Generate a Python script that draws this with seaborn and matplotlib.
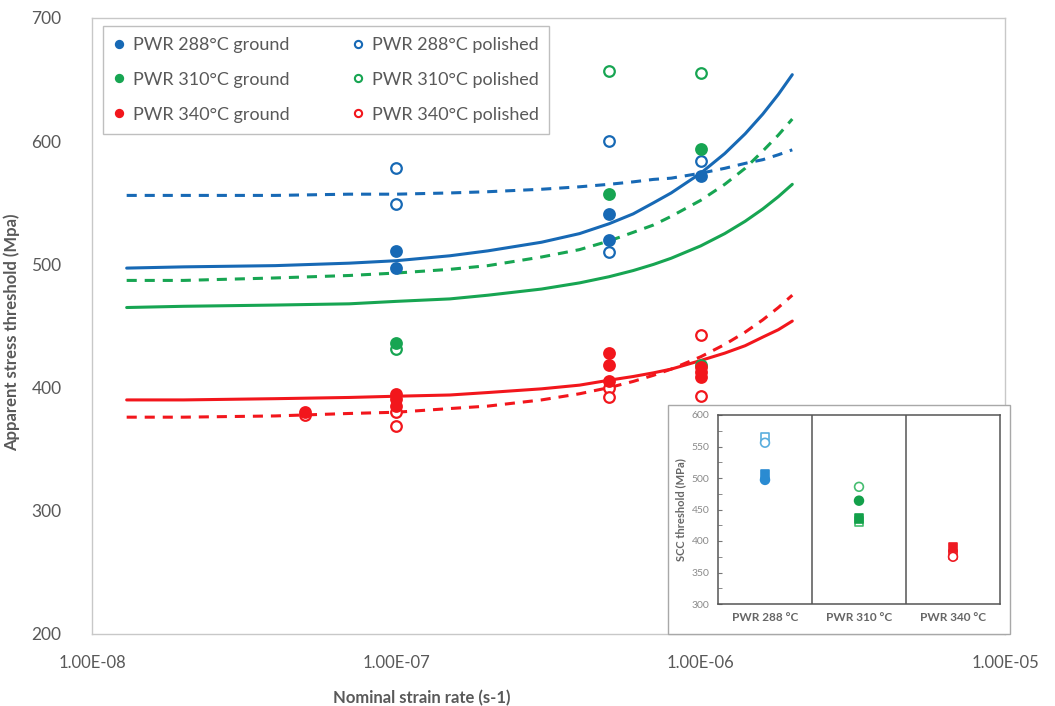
import numpy as np
import pandas as pd
import matplotlib
matplotlib.use("Agg")
import matplotlib.pyplot as plt
from matplotlib.lines import Line2D
from matplotlib.patches import Rectangle
import seaborn as sns

# ---------------- data ----------------
xtick_vals = [1e-8, 1e-7, 1e-6, 1e-5]
xtick_labels = ["1.00E-08", "1.00E-07", "1.00E-06", "1.00E-05"]
ytick_vals = [200, 300, 400, 500, 600, 700]

# fitted curves
fit_x = [1.3e-8, 2e-8, 4e-8, 7e-8, 1e-7, 1.5e-7, 2e-7, 3e-7, 4e-7, 5e-7,
         6e-7, 7e-7, 8e-7, 1e-6, 1.2e-6, 1.4e-6, 1.6e-6, 1.8e-6, 2e-6]
fit_288_ground = [497, 498, 499, 501, 503, 507, 511, 518, 525, 533, 541, 550, 558, 574, 590, 606, 622, 638, 654]
fit_288_polished = [556, 556, 556, 557, 557, 558, 559, 561, 563, 565, 567, 569, 570, 574, 578, 582, 585, 589, 593]
fit_310_ground = [465, 466, 467, 468, 470, 472, 475, 480, 485, 490, 495, 500, 505, 515, 525, 535, 545, 555, 565]
fit_310_polished = [487, 487, 489, 491, 493, 496, 499, 506, 512, 519, 526, 532, 539, 552, 565, 578, 592, 605, 618]
fit_340_ground = [390, 390, 391, 392, 393, 394, 396, 399, 402, 406, 409, 412, 415, 422, 428, 434, 441, 447, 454]
fit_340_polished = [376, 376, 377, 379, 380, 383, 385, 390, 395, 400, 405, 410, 415, 425, 435, 445, 455, 465, 475]

# measured points
g288_x = [1e-7, 1e-7, 5e-7, 5e-7, 1e-6]
g288_y = [511, 497, 541, 520, 572]
p288_x = [1e-7, 1e-7, 5e-7, 5e-7, 1e-6]
p288_y = [578, 549, 600, 510, 584]
g310_x = [1e-7, 5e-7, 1e-6, 1e-6]
g310_y = [436, 557, 594, 418]
p310_x = [1e-7, 5e-7, 1e-6]
p310_y = [431, 657, 655]
g340_x = [5e-8, 1e-7, 1e-7, 1e-7, 5e-7, 5e-7, 5e-7, 1e-6, 1e-6, 1e-6]
g340_y = [380, 395, 391, 385, 428, 418, 405, 417, 413, 409]
p340_x = [5e-8, 1e-7, 1e-7, 5e-7, 5e-7, 1e-6, 1e-6]
p340_y = [378, 380, 369, 400, 392, 443, 393]

legend_labels = ["PWR 288°C ground", "PWR 310°C ground", "PWR 340°C ground",
                 "PWR 288°C polished", "PWR 310°C polished", "PWR 340°C polished"]

# inset data
inset_cats = ["PWR 288 °C", "PWR 310 °C", "PWR 340 °C"]
inset_fcircle_cat = ["PWR 288 °C", "PWR 310 °C"]
inset_fcircle_val = [497, 464]
inset_fsquare_cat = ["PWR 288 °C", "PWR 310 °C", "PWR 340 °C"]
inset_fsquare_val = [505, 436, 390]
inset_ocircle_cat = ["PWR 288 °C", "PWR 310 °C", "PWR 340 °C"]
inset_ocircle_val = [556, 486, 375]
inset_osquare_cat = ["PWR 288 °C", "PWR 310 °C", "PWR 340 °C"]
inset_osquare_val = [564, 431, 379]

# ---------------- style ----------------
sns.set_style("white")
plt.rcParams["font.family"] = ["Lato", "DejaVu Sans"]

BLUE = "#1769b5"
GREEN = "#17a552"
RED = "#f2161c"
TXT = "#595959"

fig = plt.figure(figsize=(10.55, 7.06), dpi=100)
ax = fig.add_axes([92 / 1055, 1 - 634 / 706, (1005 - 92) / 1055, (634 - 18) / 706])
ax.set_xscale("log")

dash = (3.3, 2.6)
curves = [
    (fit_288_ground, BLUE, "-"), (fit_288_polished, BLUE, "--"),
    (fit_310_ground, GREEN, "-"), (fit_310_polished, GREEN, "--"),
    (fit_340_ground, RED, "-"), (fit_340_polished, RED, "--"),
]
for vals, c, ls in curves:
    df = pd.DataFrame({"x": fit_x, "y": vals})
    sns.lineplot(data=df, x="x", y="y", ax=ax, color=c, lw=2.2, sort=False,
                 estimator=None, zorder=2)
    if ls == "--":
        ax.lines[-1].set_dashes(dash)


def scat(axis, x, y, c, filled, s=58, marker="o", lw=1.6, z=4):
    sns.scatterplot(x=x, y=y, ax=axis, color=c, s=s, marker=marker,
                    linewidth=lw, zorder=z, legend=False)
    coll = axis.collections[-1]
    coll.set_edgecolor(c)
    coll.set_facecolor(c if filled else "white")
    coll.set_linewidth(lw)


scat(ax, p288_x, p288_y, BLUE, False)
scat(ax, p310_x, p310_y, GREEN, False)
scat(ax, p340_x, p340_y, RED, False)
scat(ax, g288_x, g288_y, BLUE, True)
scat(ax, g310_x, g310_y, GREEN, True)
scat(ax, g340_x, g340_y, RED, True)

ax.set_xlim(1e-8, 1e-5)
ax.set_ylim(200, 700)
ax.set_xticks(xtick_vals)
ax.set_xticklabels(xtick_labels)
ax.set_yticks(ytick_vals)
ax.minorticks_off()
ax.tick_params(axis="x", length=0, pad=15, labelsize=12, labelcolor=TXT)
ax.tick_params(axis="y", length=0, pad=22, labelsize=12.5, labelcolor=TXT)
for sp in ax.spines.values():
    sp.set_color("#c8c8c8")
    sp.set_linewidth(1.0)
ax.set_xlabel("Nominal strain rate (s-1)", fontsize=12, fontweight="bold", color=TXT)
ax.xaxis.set_label_coords((422 - 92) / 913, -(690 - 634) / 616)
ax.set_ylabel("Apparent stress threshold (Mpa)", fontsize=12, fontweight="bold", color=TXT)
ax.yaxis.set_label_coords(-(92 - 20) / 913, 0.49)

# legend
handles = []
for c, filled in [(BLUE, True), (GREEN, True), (RED, True), (BLUE, False), (GREEN, False), (RED, False)]:
    handles.append(Line2D([], [], marker="o", linestyle="none", markersize=5.2,
                          markerfacecolor=c if filled else "white",
                          markeredgecolor=c, markeredgewidth=1.5))
leg = ax.legend(handles, legend_labels, ncol=2, loc="upper left",
                bbox_to_anchor=((103 - 92) / 913, (634 - 26) / 616),
                borderaxespad=0, frameon=True, fancybox=False, fontsize=13,
                labelspacing=1.05, columnspacing=3.5, handlelength=0.6,
                handletextpad=0.45, borderpad=0.6, labelcolor=TXT)
leg.get_frame().set_edgecolor("#b0b0b0")
leg.get_frame().set_linewidth(1.0)

# ---------------- inset ----------------
frame = Rectangle((668 / 1055, 1 - 634 / 706), (1010 - 668) / 1055, (634 - 405) / 706,
                  transform=fig.transFigure, facecolor="white", edgecolor="#a8a8a8",
                  linewidth=1.0, zorder=1)
fig.add_artist(frame)

ax2 = fig.add_axes([718 / 1055, 1 - 604 / 706, (1000 - 718) / 1055, (604 - 415) / 706])
ax2.set_zorder(2)
ax2.set_facecolor("white")

IB, IBL = "#2a8bd2", "#5aaede"
IG, IGL = "#13a04a", "#45bd70"
IR = "#ee1a22"
inset_pal_f = {"PWR 288 °C": IB, "PWR 310 °C": IG, "PWR 340 °C": IR}
inset_pal_o = {"PWR 288 °C": IBL, "PWR 310 °C": IGL, "PWR 340 °C": IR}


def inset_scat(cats, vals, pal, filled, marker):
    df = pd.DataFrame({"cat": cats, "val": vals})
    sns.scatterplot(data=df, x="cat", y="val", hue="cat", palette=pal, ax=ax2,
                    marker=marker, s=40, linewidth=1.2, legend=False, zorder=3)
    coll = ax2.collections[-1]
    cols = [pal[c] for c in cats]
    coll.set_edgecolors(cols)
    coll.set_facecolors(cols if filled else ["white"] * len(cols))
    coll.set_linewidth(1.2)


# establish category order
sns.scatterplot(x=inset_cats, y=[np.nan] * 3, ax=ax2, legend=False)
inset_scat(inset_osquare_cat, inset_osquare_val, inset_pal_o, False, "s")
inset_scat(inset_ocircle_cat, inset_ocircle_val, inset_pal_o, False, "o")
inset_scat(inset_fsquare_cat, inset_fsquare_val, inset_pal_f, True, "s")
inset_scat(inset_fcircle_cat, inset_fcircle_val, inset_pal_f, True, "o")

ax2.set_xlim(-0.5, 2.5)
ax2.set_ylim(300, 600)
ax2.set_yticks(range(300, 601, 50))
ax2.set_yticks(range(325, 600, 50), minor=True)
ax2.axvline(0.5, color="#555555", lw=1.1)
ax2.axvline(1.5, color="#555555", lw=1.1)
for sp in ax2.spines.values():
    sp.set_color("#555555")
    sp.set_linewidth(1.1)
ax2.tick_params(axis="y", which="both", direction="in", length=3, color="#777777",
                labelsize=7.5, labelcolor="#8a8a8a", pad=6, left=True)
ax2.tick_params(axis="x", length=0, labelsize=8.5, labelcolor="#666666", pad=6)
for t in ax2.get_xticklabels():
    t.set_fontweight("bold")
ax2.set_xlabel("")
ax2.set_ylabel("SCC threshold (MPa)", fontsize=8, fontweight="bold", color="#666666", labelpad=4)

fig.savefig("out.png", dpi=100)
